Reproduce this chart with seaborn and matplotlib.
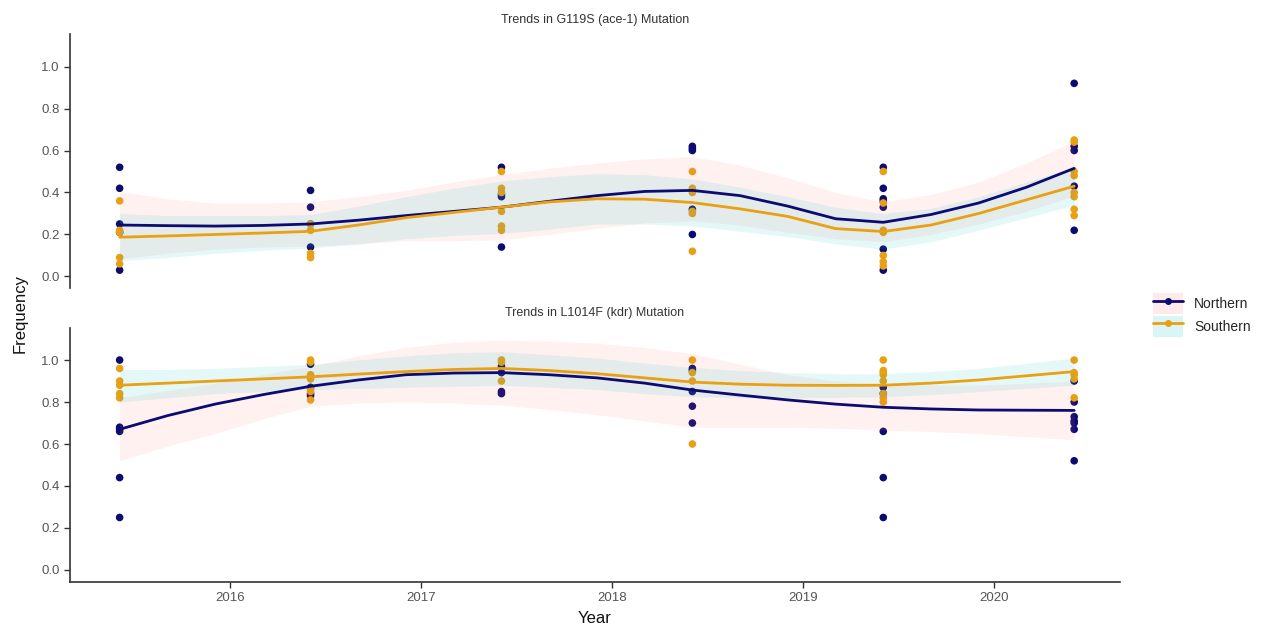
import pandas as pd
import seaborn as sns
import matplotlib.pyplot as plt
from matplotlib.lines import Line2D
from matplotlib.patches import Patch

# sampling dates (decimal years) used for both mutations
sample_dates = [2015.42, 2016.42, 2017.42, 2018.42, 2019.42, 2020.42]

# G119S (ace-1) frequencies per sampling date
ace1_north = [[0.52, 0.42, 0.25, 0.21, 0.03],
              [0.41, 0.33, 0.25, 0.14],
              [0.52, 0.39, 0.38, 0.14],
              [0.62, 0.61, 0.60, 0.32, 0.20],
              [0.52, 0.42, 0.37, 0.36, 0.33, 0.13, 0.03],
              [0.92, 0.62, 0.60, 0.43, 0.22]]
ace1_south = [[0.36, 0.22, 0.21, 0.09, 0.06],
              [0.25, 0.22, 0.11, 0.09],
              [0.50, 0.42, 0.40, 0.31, 0.24, 0.22],
              [0.50, 0.42, 0.40, 0.31, 0.30, 0.12],
              [0.50, 0.35, 0.22, 0.21, 0.10, 0.07, 0.05],
              [0.65, 0.64, 0.50, 0.48, 0.40, 0.38, 0.32, 0.29]]

# L1014F (kdr) frequencies per sampling date
kdr_north = [[1.00, 0.68, 0.67, 0.66, 0.44, 0.25],
             [0.98, 0.87, 0.84, 0.83],
             [0.97, 0.94, 0.85, 0.84],
             [0.96, 0.95, 0.85, 0.78, 0.70],
             [0.87, 0.84, 0.66, 0.44, 0.25],
             [0.90, 0.80, 0.73, 0.71, 0.70, 0.67, 0.52]]
kdr_south = [[0.96, 0.90, 0.88, 0.84, 0.82],
             [1.00, 0.99, 0.93, 0.92, 0.91, 0.86, 0.85, 0.81],
             [1.00, 0.99, 0.90],
             [1.00, 0.94, 0.90, 0.60],
             [1.00, 0.95, 0.94, 0.93, 0.90, 0.84, 0.82, 0.80],
             [1.00, 0.94, 0.93, 0.91, 0.82]]

# loess fits and 95% bands (quarter-year steps)
fit_dates = [2015.42, 2015.67, 2015.92, 2016.17, 2016.42, 2016.67, 2016.92,
             2017.17, 2017.42, 2017.67, 2017.92, 2018.17, 2018.42, 2018.67,
             2018.92, 2019.17, 2019.42, 2019.67, 2019.92, 2020.17, 2020.42]

ace1_north_fit = [0.245, 0.242, 0.240, 0.243, 0.250, 0.268, 0.290, 0.310, 0.330, 0.358, 0.385,
                  0.405, 0.410, 0.385, 0.335, 0.275, 0.258, 0.295, 0.350, 0.425, 0.515]
ace1_north_lo = [0.085, 0.110, 0.130, 0.140, 0.145, 0.155, 0.170, 0.170, 0.175, 0.200, 0.230,
                 0.255, 0.265, 0.245, 0.210, 0.180, 0.165, 0.200, 0.250, 0.310, 0.385]
ace1_north_hi = [0.405, 0.370, 0.350, 0.350, 0.355, 0.380, 0.410, 0.450, 0.485, 0.515, 0.540,
                 0.560, 0.570, 0.530, 0.470, 0.400, 0.355, 0.390, 0.450, 0.540, 0.645]
ace1_south_fit = [0.187, 0.193, 0.200, 0.207, 0.215, 0.245, 0.280, 0.305, 0.330, 0.355, 0.370,
                  0.368, 0.352, 0.322, 0.286, 0.228, 0.214, 0.245, 0.300, 0.365, 0.430]
ace1_south_lo = [0.075, 0.090, 0.110, 0.125, 0.135, 0.155, 0.180, 0.195, 0.205, 0.225, 0.250,
                 0.250, 0.240, 0.215, 0.190, 0.155, 0.130, 0.165, 0.220, 0.280, 0.340]
ace1_south_hi = [0.300, 0.290, 0.290, 0.290, 0.295, 0.335, 0.380, 0.420, 0.455, 0.475, 0.490,
                 0.485, 0.465, 0.425, 0.380, 0.330, 0.300, 0.325, 0.380, 0.450, 0.520]

kdr_north_fit = [0.670, 0.735, 0.790, 0.835, 0.875, 0.905, 0.930, 0.938, 0.940, 0.930, 0.915,
                 0.890, 0.857, 0.833, 0.810, 0.790, 0.775, 0.767, 0.762, 0.761, 0.760]
kdr_north_lo = [0.520, 0.590, 0.650, 0.720, 0.780, 0.795, 0.800, 0.795, 0.785, 0.765, 0.740,
                0.710, 0.680, 0.680, 0.680, 0.675, 0.665, 0.660, 0.650, 0.635, 0.620]
kdr_north_hi = [0.820, 0.855, 0.890, 0.930, 0.970, 1.020, 1.060, 1.085, 1.095, 1.090, 1.080,
                1.060, 1.030, 0.980, 0.930, 0.900, 0.885, 0.880, 0.880, 0.890, 0.900]
kdr_south_fit = [0.880, 0.890, 0.900, 0.910, 0.920, 0.933, 0.945, 0.955, 0.960, 0.950, 0.935,
                 0.915, 0.895, 0.885, 0.880, 0.879, 0.880, 0.890, 0.905, 0.925, 0.945]
kdr_south_lo = [0.800, 0.820, 0.840, 0.850, 0.860, 0.865, 0.870, 0.875, 0.880, 0.870, 0.860,
                0.840, 0.825, 0.820, 0.820, 0.822, 0.825, 0.835, 0.850, 0.865, 0.880]
kdr_south_hi = [0.955, 0.955, 0.960, 0.970, 0.980, 1.000, 1.020, 1.035, 1.040, 1.025, 1.010,
                0.985, 0.965, 0.950, 0.940, 0.935, 0.935, 0.945, 0.960, 0.985, 1.010]

regions = ["Northern", "Southern"]
point_colors = {"Northern": "#0b0b72", "Southern": "#E9A012"}
band_colors = {"Northern": "#F8766D", "Southern": "#00BFC4"}


def points_frame(north, south):
    rows = []
    for region, groups in zip(regions, (north, south)):
        for x, vals in zip(sample_dates, groups):
            for v in vals:
                rows.append((x, v, region))
    return pd.DataFrame(rows, columns=["Year", "Frequency", "Region"])


def fit_frame(north, south):
    parts = []
    for region, (fit, lo, hi) in zip(regions, (north, south)):
        parts.append(pd.DataFrame({"Year": fit_dates, "Frequency": fit,
                                   "lo": lo, "hi": hi, "Region": region}))
    return pd.concat(parts, ignore_index=True)


def draw_panel(ax, pts, fits, title):
    sns.scatterplot(data=pts, x="Year", y="Frequency", hue="Region",
                    palette=point_colors, s=30, linewidth=0, legend=False,
                    ax=ax, zorder=2)
    for region in regions:
        d = fits[fits["Region"] == region]
        ax.fill_between(d["Year"], d["lo"], d["hi"], color=band_colors[region],
                        alpha=0.1, linewidth=0, zorder=3)
    sns.lineplot(data=fits, x="Year", y="Frequency", hue="Region",
                 palette=point_colors, linewidth=2, legend=False, ax=ax,
                 zorder=4, sort=False)
    ax.set_xlim(2015.16, 2020.66)
    ax.set_ylim(-0.055, 1.155)
    ax.set_yticks([0.0, 0.2, 0.4, 0.6, 0.8, 1.0])
    ax.set_yticklabels(["0.0", "0.2", "0.4", "0.6", "0.8", "1.0"])
    ax.set_xticks([2016, 2017, 2018, 2019, 2020])
    ax.set_title(title, fontsize=9, color="#333333", pad=8)
    ax.set_xlabel("")
    ax.set_ylabel("")
    ax.tick_params(colors="#333333", labelcolor="#555555", labelsize=9.5,
                   length=4, width=1)
    for side in ("left", "bottom"):
        ax.spines[side].set_color("#333333")
        ax.spines[side].set_linewidth(1.2)
    sns.despine(ax=ax)


sns.set_theme(style="ticks")
plt.rcParams["font.family"] = ["Liberation Sans", "DejaVu Sans"]

W, H = 1261, 627
fig = plt.figure(figsize=(W / 100, H / 100), dpi=100)
ax_top = fig.add_axes([70 / W, 1 - 288 / H, 1050 / W, 254 / H])
ax_bot = fig.add_axes([70 / W, 1 - 581.5 / H, 1050 / W, 254 / H])

draw_panel(ax_top, points_frame(ace1_north, ace1_south),
           fit_frame((ace1_north_fit, ace1_north_lo, ace1_north_hi),
                     (ace1_south_fit, ace1_south_lo, ace1_south_hi)),
           "Trends in G119S (ace-1) Mutation")
draw_panel(ax_bot, points_frame(kdr_north, kdr_south),
           fit_frame((kdr_north_fit, kdr_north_lo, kdr_north_hi),
                     (kdr_south_fit, kdr_south_lo, kdr_south_hi)),
           "Trends in L1014F (kdr) Mutation")

# only the lower facet shows the x axis
ax_top.spines["bottom"].set_visible(False)
ax_top.tick_params(axis="x", bottom=False, labelbottom=False)

ax_bot.set_xlabel("Year", fontsize=12, color="#111111", labelpad=5)
fig.text(20 / W, 0.5, "Frequency", rotation=90, ha="center", va="center",
         fontsize=12, color="#111111")

handles = []
for region in regions:
    bg = Patch(facecolor=band_colors[region], alpha=0.15, edgecolor="none")
    ln = Line2D([], [], color=point_colors[region], linewidth=2,
                marker="o", markersize=4)
    handles.append((bg, ln))
fig.legend(handles, regions, loc="center left",
           bbox_to_anchor=(1140 / W, 1 - 315 / H), frameon=False,
           fontsize=10, handlelength=2.2, handleheight=1.9,
           labelspacing=0.15, handletextpad=0.8)

fig.savefig("out.png", dpi=100)
